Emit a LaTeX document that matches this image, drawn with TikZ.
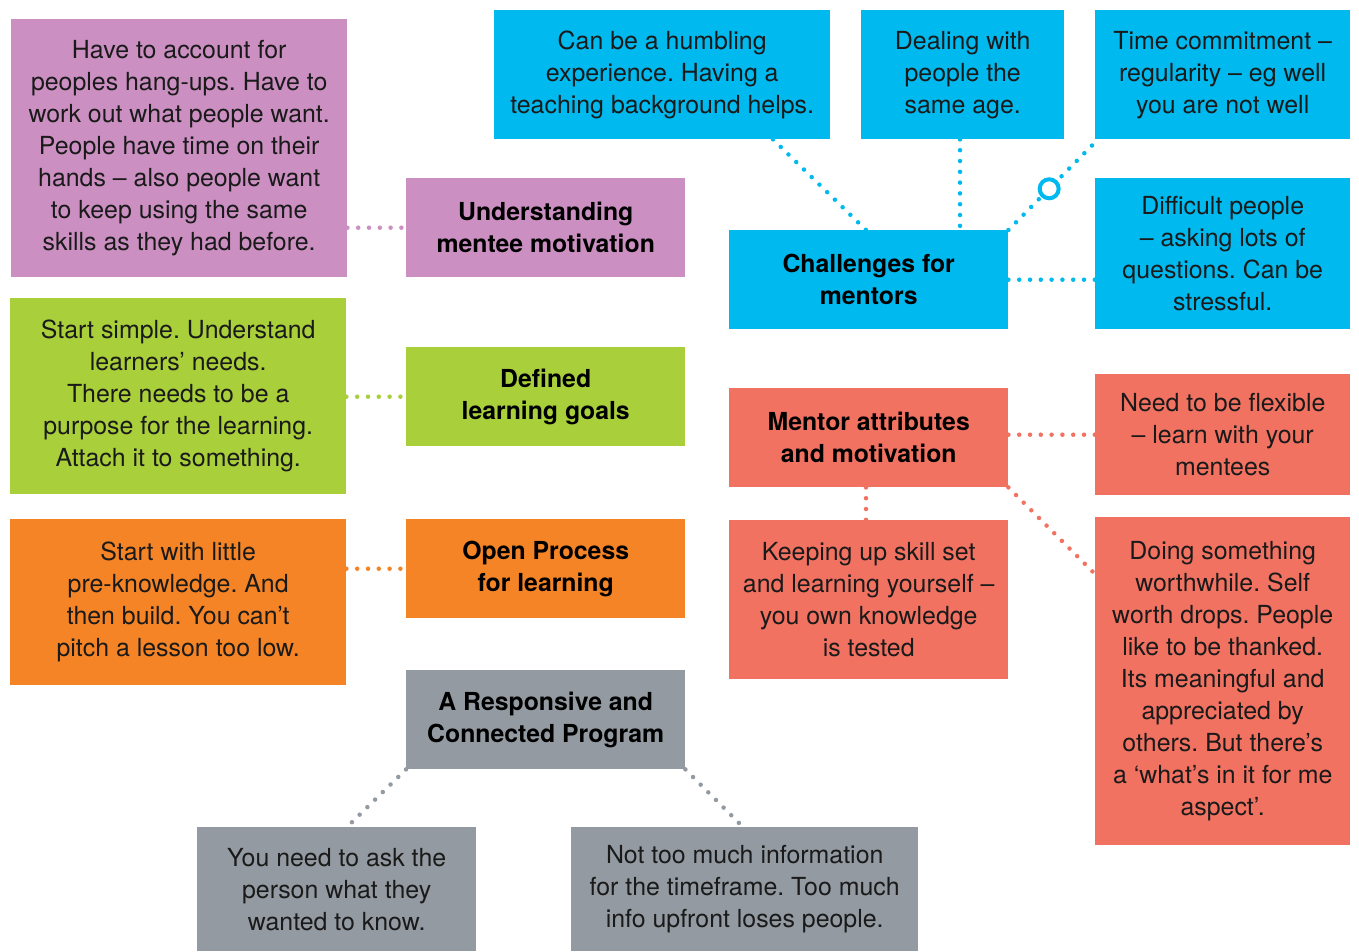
\documentclass[tikz,border=0pt]{standalone}
\usepackage{fontspec}
\setmainfont{TeX Gyre Heros}
\usetikzlibrary{calc}
\definecolor{cpurp}{HTML}{CB8FC2}
\definecolor{cgreen}{HTML}{A9CF3A}
\definecolor{corange}{HTML}{F58426}
\definecolor{cgray}{HTML}{939AA1}
\definecolor{cblue}{HTML}{00B9EE}
\definecolor{cred}{HTML}{F27262}
\definecolor{ctext}{HTML}{1A1A1A}
\tikzset{
  box/.style={anchor=north west, inner sep=0pt, align=center, text=ctext,
    font=\frenchspacing\fontsize{24.9}{32}\selectfont},
  title/.style={box, text=black, font=\frenchspacing\bfseries\fontsize{24.8}{32}\selectfont},
  dotline/.style={line width=4.5pt, line cap=round, dash pattern=on 0pt off 10.8pt},
}
\begin{document}
\begin{tikzpicture}[x=1pt,y=-1pt]
\useasboundingbox (0,0) rectangle (1359,951);
% purple
\node[box, fill=cpurp, minimum width=336, minimum height=258] (pd) at (11,19)
 {Have to account for\\peoples hang-ups. Have to\\work out what people want.\\People have time on their\\hands -- also people want\\to keep using the same\\skills as they had before.};
\node[title, fill=cpurp, minimum width=279, minimum height=99] (pm) at (406,178)
 {Understanding\\mentee motivation};
% green
\node[box, fill=cgreen, minimum width=336, minimum height=196] (gd) at (10,298)
 {Start simple. Understand\\learners’ needs.\\There needs to be a\\purpose for the learning.\\Attach it to something.};
\node[title, fill=cgreen, minimum width=279, minimum height=99] (gm) at (406,347)
 {Defined\\learning goals};
% orange
\node[box, fill=corange, minimum width=336, minimum height=166] (od) at (10,519)
 {Start with little\\pre-knowledge. And\\then build. You can’t\\pitch a lesson too low.};
\node[title, fill=corange, minimum width=279, minimum height=99] (om) at (406,519)
 {Open Process\\for learning};
% gray
\node[title, fill=cgray, minimum width=279, minimum height=99] (ym) at (406,670)
 {A Responsive and\\Connected Program};
\node[box, fill=cgray, minimum width=279, minimum height=124] (yl) at (197,827)
 {You need to ask the\\person what they\\wanted to know.};
\node[box, fill=cgray, minimum width=347, minimum height=124] (yr) at (571,827)
 {Not too much information\\for the timeframe. Too much\\info upfront loses people.};
% blue
\node[box, fill=cblue, minimum width=336, minimum height=129] (b1) at (494,10)
 {Can be a humbling\\experience. Having a\\teaching background helps.};
\node[box, fill=cblue, minimum width=203, minimum height=129] (b2) at (861,10)
 {Dealing with\\people the\\same age.};
\node[box, fill=cblue, minimum width=255, minimum height=129] (b3) at (1095,10)
 {Time commitment --\\regularity -- eg well\\you are not well};
\node[title, fill=cblue, minimum width=279, minimum height=99] (bm) at (729,230)
 {Challenges for\\mentors};
\node[box, fill=cblue, minimum width=255, minimum height=151] (bd) at (1095,178)
 {Difficult people\\-- asking lots of\\questions. Can be\\stressful.};
% red
\node[title, fill=cred, minimum width=279, minimum height=99] (rm) at (729,388)
 {Mentor attributes\\and motivation};
\node[box, fill=cred, minimum width=255, minimum height=121] (r1) at (1095,374)
 {Need to be flexible\\-- learn with your\\mentees};
\node[box, fill=cred, minimum width=279, minimum height=159] (rb) at (729,520)
 {Keeping up skill set\\and learning yourself --\\you own knowledge\\is tested};
\node[box, fill=cred, minimum width=255, minimum height=328] (r2) at (1095,517)
 {Doing something\\worthwhile. Self\\worth drops. People\\like to be thanked.\\Its meaningful and\\appreciated by\\others. But there’s\\a ‘what’s in it for me\\aspect’.};
% connectors
\draw[dotline, cpurp] (pm.west -| pd.east) -- (pm.west);
\draw[dotline, cgreen] (gm.west -| gd.east) -- (gm.west);
\draw[dotline, corange] (om.west -| od.east) -- (om.west);
\draw[dotline, cgray] (ym.south west) -- ($(yl.north west)+(150,0)$);
\draw[dotline, cgray] (ym.south east) -- ($(yr.north west)+(172,0)$);
\draw[dotline, cblue] ($(b1.south west)+(279,0)$) -- ($(bm.north west)+(137,0)$);
\draw[dotline, cblue] ($(b2.south west)+(99,0)$) -- ($(bm.north west)+(231,0)$);
\draw[dotline, cblue] (bm.north east) -- ($(b3.south west)+(3,0)$)
  coordinate[pos=0.455] (ringc);
\node[circle, draw=cblue, solid, line width=4pt, fill=white, minimum size=19pt, inner sep=0pt] (ring) at (ringc) {};
\draw[dotline, cblue] (bm.east) -- (bm.east -| bd.west);
\draw[dotline, cred] (r1.west -| rm.east) -- (r1.west);
\draw[dotline, cred] ($(rm.south west)+(137,0)$) -- ($(rb.north west)+(137,0)$);
\draw[dotline, cred] (rm.south east) -- ($(r2.north west)+(-2,55)$);
\end{tikzpicture}
\end{document}
